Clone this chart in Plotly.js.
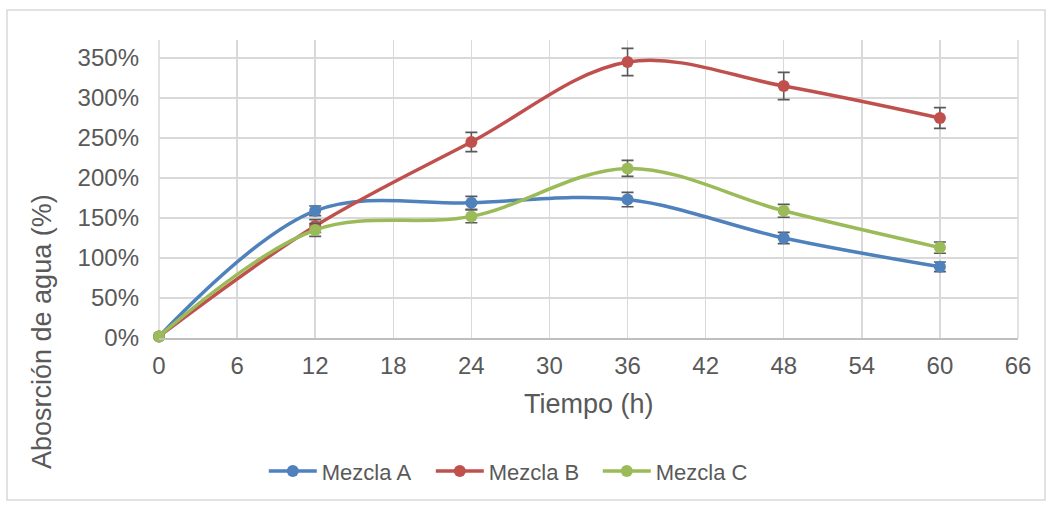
<!DOCTYPE html>
<html>
<head>
<meta charset="utf-8">
<script src="https://cdn.plot.ly/plotly-3.0.1.min.js"></script>
<style>html,body{margin:0;padding:0;background:#fff;}#chart{width:1053px;height:508px;}</style>
</head>
<body>
<div id="chart"></div>
<script>
var tiempo = [0, 12, 24, 36, 48, 60];
var mezclaA = [2, 159, 169, 173, 125, 89];
var mezclaB = [2, 140, 245, 345, 315, 275];
var mezclaC = [2, 135, 152, 212, 159, 113];
var errA = [0, 6, 8, 9, 7, 6];
var errB = [0, 8, 12, 17, 17, 13];
var errC = [0, 8, 8, 10, 8, 7];
var seriesNames = ['Mezcla A', 'Mezcla B', 'Mezcla C'];
var colors = ['#4f81bd', '#c0504d', '#9bbb59'];
var xTicks = [0, 6, 12, 18, 24, 30, 36, 42, 48, 54, 60, 66];
var yTicks = [0, 50, 100, 150, 200, 250, 300, 350];

var ys = [mezclaA, mezclaB, mezclaC];
var es = [errA, errB, errC];
var traces = ys.map(function (y, i) {
  return {
    x: tiempo, y: y, name: seriesNames[i], type: 'scatter', mode: 'lines+markers',
    line: {color: colors[i], width: 3.5, shape: 'spline', smoothing: 1},
    marker: {color: colors[i], size: 12},
    error_y: {type: 'data', array: es[i], visible: true, color: '#595959', thickness: 1.6, width: 6},
    cliponaxis: false
  };
});

var fam = 'Liberation Sans, Arial, sans-serif';
var grey = '#595959';
var layout = {
  width: 1053, height: 508,
  margin: {l: 159, r: 35, t: 40, b: 170},
  paper_bgcolor: '#fff', plot_bgcolor: '#fff',
  font: {family: fam, color: grey},
  showlegend: true,
  legend: {orientation: 'h', x: 0.122, xanchor: 'left', y: -0.447, yanchor: 'middle',
           font: {family: fam, color: grey, size: 22}, entrywidth: 104, entrywidthmode: 'pixels',
           itemwidth: 48, traceorder: 'normal'},
  xaxis: {range: [0, 66], tickvals: xTicks, ticktext: xTicks.map(String), showgrid: true,
          gridcolor: '#d9d9d9', gridwidth: 1.5, zeroline: false, showline: true, linecolor: '#bfbfbf', linewidth: 1.5,
          mirror: false, ticks: '', tickfont: {size: 24, color: grey, family: fam}, ticklabelstandoff: 6},
  yaxis: {range: [0, 372.5], tickvals: yTicks, ticktext: yTicks.map(function (v) { return v + '%'; }),
          showgrid: true, gridcolor: '#d9d9d9', gridwidth: 1.5, zeroline: false, showline: false,
          ticks: '', tickfont: {size: 24, color: grey, family: fam}, ticklabelstandoff: 19},
  annotations: [
    {text: 'Tiempo (h)', xref: 'paper', yref: 'paper', x: 0.5, y: (338 - 404) / 298, xanchor: 'center', yanchor: 'middle',
     showarrow: false, font: {size: 27, color: grey, family: fam}},
    {text: 'Abosrción de agua (%)', xref: 'paper', yref: 'paper', x: (42 - 159) / 859, y: (338 - 331) / 298,
     xanchor: 'center', yanchor: 'middle', textangle: -90,
     showarrow: false, font: {size: 27, color: grey, family: fam}}
  ],
  shapes: [
    {type: 'rect', xref: 'paper', yref: 'paper', x0: (7 - 159) / 859, x1: (1045 - 159) / 859,
     y0: (338 - 500) / 298, y1: (338 - 10) / 298, line: {color: '#d9d9d9', width: 1.5}, layer: 'below'},
    {type: 'line', xref: 'paper', yref: 'paper', x0: 1, x1: 1, y0: 0, y1: 1, line: {color: '#d9d9d9', width: 1.5}, layer: 'below'},
    {type: 'line', xref: 'paper', yref: 'paper', x0: 0, x1: 0, y0: 0, y1: 1, line: {color: '#d9d9d9', width: 1.5}, layer: 'below'}
  ]
};
Plotly.newPlot('chart', traces, layout, {displayModeBar: false, staticPlot: true});
</script>
</body>
</html>
